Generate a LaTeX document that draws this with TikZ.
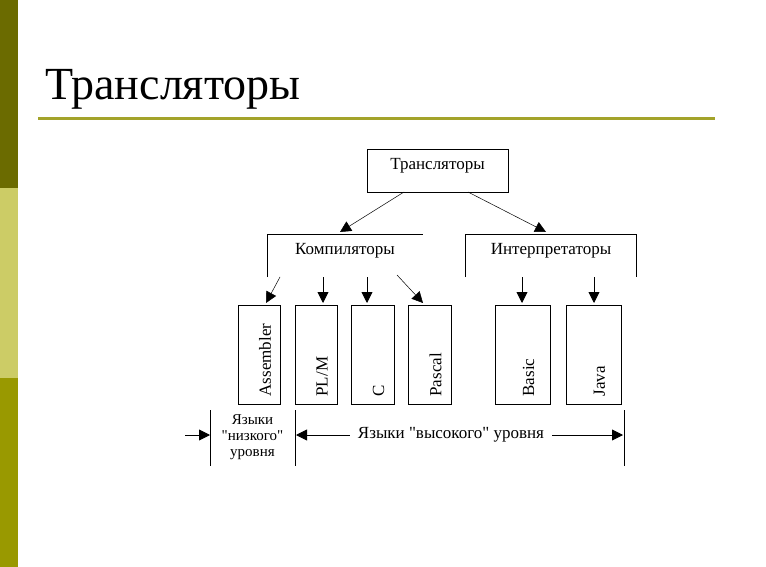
\documentclass[tikz,border=0pt]{standalone}
\usepackage{fontspec}
\setmainfont{Liberation Serif}
\newfontfamily\plainq{Liberation Serif}
\newcommand{\qq}{{\plainq\symbol{34}}}
\usetikzlibrary{arrows.meta}
\definecolor{s1}{HTML}{6B6B00}
\definecolor{s2}{HTML}{CCCC66}
\definecolor{s3}{HTML}{999900}
\definecolor{rule}{HTML}{A3A32A}
\begin{document}
\begin{tikzpicture}[x=1pt,y=-1pt,
  ln/.style={draw=black,line width=0.9pt},
  ar/.style={ln,-{Triangle[length=11pt,width=11pt]}},
  thin/.style={draw=black,line width=0.5pt,-{Triangle[length=11pt,width=11pt]}},
  vt/.style={rotate=90,anchor=west,font=\fontsize{17}{17}\selectfont},
  lb/.style={font=\fontsize{17}{18}\selectfont,inner sep=1pt}]
\useasboundingbox (0,0) rectangle (766,567);
\fill[white] (0,0) rectangle (766,567);
\fill[s1] (0,0) rectangle (18,188);
\fill[s2] (0,188) rectangle (18,378);
\fill[s3] (0,378) rectangle (18,567);
\node[anchor=base west,inner sep=0pt,font=\fontsize{46}{46}\selectfont] (title) at (45,100) {Трансляторы};
\draw[line width=3pt,draw=rule] (38,119) -- (715,119);
% top box
\draw[ln] (367,149) rectangle (508,192);
\node[lb] (tr) at (437.5,166) {Трансляторы};
% brackets
\draw[ln] (267,277) -- (267,234) -- (423,234);
\node[lb] (comp) at (345,251) {Компиляторы};
\draw[ln] (465,277) -- (465,234) -- (636,234) -- (636,277);
\node[lb] (intp) at (551,251) {Интерпретаторы};
\coordinate (c1) at (340,232);
\coordinate (i1) at (546,232);
\draw[thin] (404,192) -- (c1);
\draw[thin] (468,192) -- (i1);
% boxes
\foreach \n/\a/\b/\t in {asm/238/280/{Assembler},plm/295/337/{PL/M},cc/351/394/{C},pas/408/451/{Pascal},bas/495/550/{Basic},jav/566/621/{Java}}{
  \draw[ln] (\a,305) rectangle (\b,404);
  \node[vt] (\n) at ({(\a+\b)/2+6},400) {\t};
}
\coordinate (a0) at (280,277); \coordinate (a1) at (266,303);
\draw[thin] (a0) -- (a1);
\coordinate (p0) at (397,275); \coordinate (p1) at (423,303);
\draw[thin] (p0) -- (p1);
\foreach \x in {323,367,522,594}{\draw[ar] (\x,277) -- (\x,303);}
% bottom
\draw[ln] (210,410) -- (210,466);
\draw[ln] (295,410) -- (295,466);
\draw[ln] (624,410) -- (624,466);
\coordinate (l0) at (185,435);
\draw[ar] (l0) -- (210,435);
\node[align=center,font=\fontsize{15}{16}\selectfont,inner sep=0pt] (low) at (252.5,437) {Языки\\\qq низкого\qq\\уровня};
\node[lb,inner sep=8pt] (high) at (451,435) {Языки \qq высокого\qq{} уровня};
\draw[ar] (high.west) -- (296,435);
\draw[ar] (high.east) -- (623,435);
\end{tikzpicture}
\end{document}
